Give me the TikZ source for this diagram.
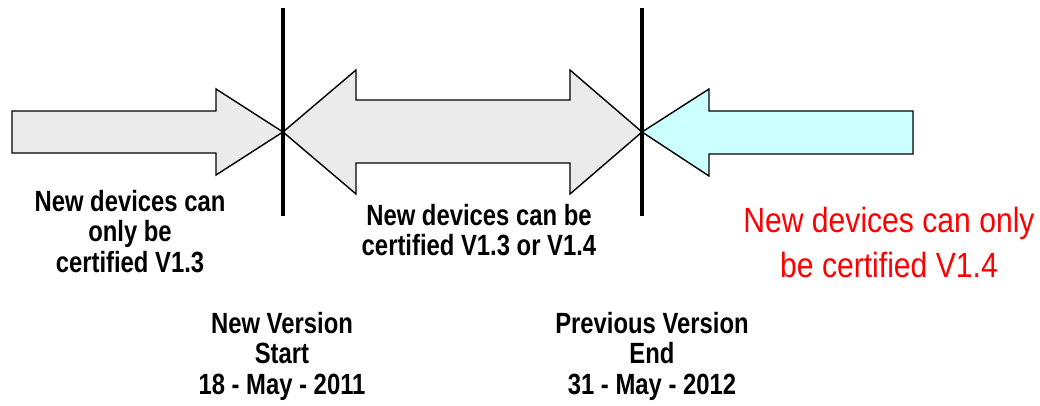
\documentclass[tikz,border=0pt]{standalone}
\usepackage{fontspec}
\newfontfamily\narrowsans[FakeStretch=0.86]{Liberation Sans}
\newfontfamily\narrowbold[FakeStretch=0.815]{Liberation Sans}
\usepackage{tikz}
\definecolor{arrowgray}{HTML}{EBEBEB}
\definecolor{arrowcyan}{HTML}{CCFFFF}
\tikzset{
  blacklabel/.style={font=\narrowbold\bfseries\fontsize{20.8}{21.7}\selectfont,align=center,inner sep=0pt,anchor=north},
  redlabel/.style={font=\narrowsans\fontsize{24.9}{32}\selectfont,text=red,align=center,inner sep=0pt,anchor=north},
  bigarrow/.style={draw=black,line width=1pt,line join=miter},
  milestone/.style={line width=2.2pt}
}

\begin{document}
\begin{tikzpicture}[x=0.025cm,y=-0.025cm]
    \useasboundingbox (0,0) rectangle (1040,406);
    \filldraw[bigarrow,fill=arrowgray] (12,111)--(216,111)--(216,89)--(283,132)--(216,175)--(216,153)--(12,153)--cycle;
    \filldraw[bigarrow,fill=arrowgray] (283,132)--(356,70)--(356,100)--(570,100)--(570,70)--(642,132)--(570,194)--(570,163)--(356,163)--(356,194)--cycle;
    \filldraw[bigarrow,fill=arrowcyan] (642,132)--(709,89)--(709,111)--(913,111)--(913,154)--(709,154)--(709,176)--cycle;
    \draw[milestone] (283,8)--(283,216);
    \draw[milestone] (642,8)--(642,216);
    \node[blacklabel] (onlyold) at (130,190) {New devices can\\only be\\certified V1.3};
    \node[blacklabel] (both) at (479,204) {New devices can be\\certified V1.3 or V1.4};
    \node[redlabel] (onlynew) at (889,207) {New devices can only\\be certified V1.4};
    \node[blacklabel] (newstart) at (282,312) {New Version\\Start\\18 - May - 2011};
    \node[blacklabel] (prevend) at (652,312) {Previous Version\\End\\31 - May - 2012};
\end{tikzpicture}
\end{document}
